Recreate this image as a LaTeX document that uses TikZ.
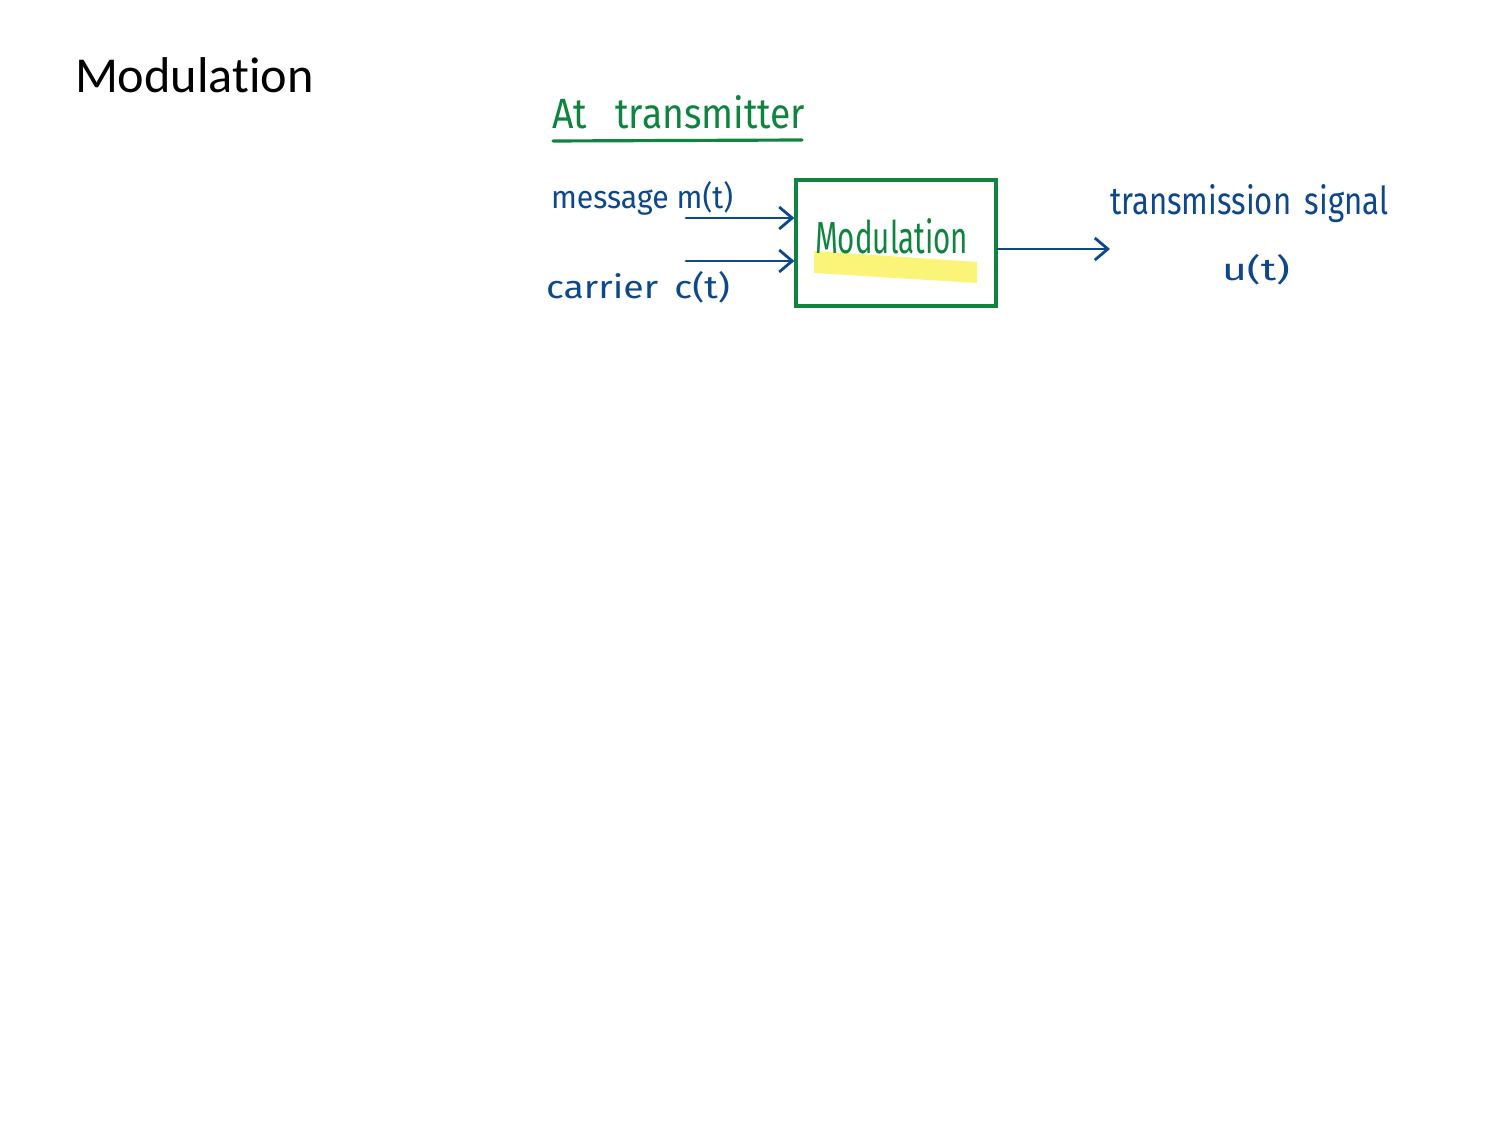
\documentclass[tikz,border=0pt]{standalone}
\usepackage{fontspec}
\setmainfont{Carlito}[Ligatures={NoCommon,NoRare}]
\newfontfamily\hwfont{Fira Sans}
\usetikzlibrary{arrows.meta}
\definecolor{inkgreen}{RGB}{16,132,62}
\definecolor{inkblue}{RGB}{14,72,138}
\definecolor{hlyellow}{RGB}{250,244,120}
\newcommand{\hw}[3]{\resizebox{#1}{#2}{\hwfont #3}}
\tikzset{
  hwtext/.style={anchor=base west, inner sep=0pt, outer sep=0pt},
  blueline/.style={draw=inkblue, line width=0.8pt, line cap=round},
  bluearrow/.style={blueline, -{Straight Barb[length=1.3mm,width=2.2mm,line width=0.8pt]}},
  greenline/.style={draw=inkgreen, line width=0.9pt, line cap=round},
  modbox/.style={rectangle, draw=inkgreen, line width=0.9pt, minimum width=2cm, minimum height=1.26cm, inner sep=0pt}
}
\begin{document}
\begin{tikzpicture}[x=0.01cm,y=-0.01cm]
\useasboundingbox (0,0) rectangle (1500,1125);
% title
\node[hwtext, font=\fontsize{14.3}{17}\selectfont] (title) at (75,93) {Modulat\kern0pt ion};
% heading
\node[hwtext, text=inkgreen] (head) at (552,129) {\hw{2.53cm}{0.33cm}{At\,\,\, transmitter}};
\coordinate (ul1) at (553,141);
\coordinate (ul2) at (802,140);
\draw[greenline] (ul1) -- (ul2);
% highlight
\fill[hlyellow] (814,251) -- (977,262) -- (977,283) -- (814,273) -- cycle;
% box
\node[modbox] (mod) at (896,243) {};
\node[hwtext, text=inkgreen] (modtxt) at (815,254) {\hw{1.53cm}{0.35cm}{Modulation}};
% inputs
\node[hwtext, text=inkblue] (msg) at (551,209) {\hw{1.82cm}{0.27cm}{message m(t)}};
\node[hwtext, text=inkblue] (car) at (546,299) {\hw{1.84cm}{0.27cm}{carrier\, c(t)}};
\coordinate (m1) at (686,218);
\coordinate (c1) at (686,261);
\draw[bluearrow] (m1) -- (m1 -| mod.west);
\draw[bluearrow] (c1) -- (c1 -| mod.west);
% output
\coordinate (o1) at (1110,249);
\draw[bluearrow] (mod.east |- o1) -- (o1);
\node[hwtext, text=inkblue] (tsig) at (1110,215) {\hw{2.78cm}{0.30cm}{transmission\, signal}};
\node[hwtext, text=inkblue] (ut) at (1222,281) {\hw{0.68cm}{0.26cm}{u(t)}};
\end{tikzpicture}
\end{document}
